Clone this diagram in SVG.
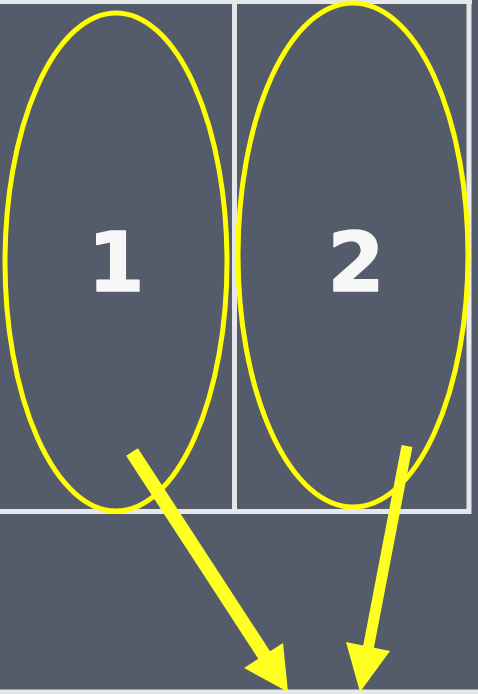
<svg xmlns="http://www.w3.org/2000/svg" width="478" height="694" viewBox="0 0 478 694">
<style>
.grid{stroke:#e6e7ea;stroke-width:5;fill:none}
.oval{fill:none;stroke:#ffff00;stroke-width:5}
.lbl{font-family:"DejaVu Sans",sans-serif;font-size:82px;font-weight:bold;fill:#f7f7f7;text-anchor:middle;stroke:#f7f7f7;stroke-width:1.5;stroke-linejoin:round}
.shaft{stroke:#ffff22;fill:none}
.head{fill:#ffff22}
</style>
<rect width="478" height="694" fill="#545b6a"/>
<g id="grid">
<line class="grid" x1="0" y1="1.5" x2="472" y2="1.5"/>
<line class="grid" x1="234.5" y1="0" x2="234.5" y2="512"/>
<line class="grid" x1="469" y1="0" x2="469" y2="514"/>
<line class="grid" x1="0" y1="511.5" x2="471" y2="511.5"/>
<line class="grid" x1="0" y1="692" x2="478" y2="692"/>
</g>
<g id="node1">
<ellipse class="oval" cx="116" cy="262" rx="111" ry="249"/>
<text class="lbl" x="116" y="291">1</text>
</g>
<g id="node2">
<ellipse class="oval" cx="353" cy="255" rx="115" ry="252"/>
<text class="lbl" x="356" y="291">2</text>
</g>
<g id="connectors">
<line class="shaft" x1="132" y1="452" x2="270" y2="664" stroke-width="14"/>
<polygon class="head" points="288,692 244,668 283,643"/>
<line class="shaft" x1="407" y1="446" x2="366" y2="660" stroke-width="11"/>
<polygon class="head" points="360,692 346,642 390,651"/>
</g>
</svg>
